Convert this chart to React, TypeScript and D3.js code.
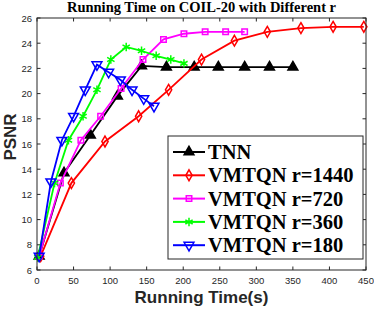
import { useEffect, useRef } from 'react';
import * as d3 from 'd3';

// data (x = running time in s, y = PSNR)
const tnnX = [3, 37, 73, 110, 143, 177, 215, 248, 284, 318, 350];
const tnnY = [7.1, 13.7, 16.7, 19.8, 22.2, 22.1, 22.1, 22.1, 22.1, 22.1, 22.1];
const r1440X = [5, 47, 93, 139, 180, 225, 270, 315, 361, 405, 447];
const r1440Y = [7.1, 12.9, 16.2, 18.2, 20.3, 22.7, 24.2, 24.9, 25.2, 25.3, 25.3];
const r720X = [3, 32, 60, 87, 115, 145, 173, 201, 230, 258, 284];
const r720Y = [7.1, 12.9, 16.3, 18.2, 20.4, 22.7, 24.3, 24.75, 24.9, 24.9, 24.9];
const r360X = [1, 24, 43, 63, 82, 101, 122, 143, 163, 183, 201];
const r360Y = [7.0, 12.9, 16.3, 18.2, 20.3, 22.7, 23.7, 23.4, 23.0, 22.7, 22.4];
const r180X = [3, 19, 34, 50, 66, 82, 98, 114, 130, 146, 160];
const r180Y = [7.1, 13.0, 16.3, 18.2, 20.3, 22.3, 21.7, 21.1, 20.3, 19.6, 19.0];

const seriesNames = ['TNN', 'VMTQN r=1440', 'VMTQN r=720', 'VMTQN r=360', 'VMTQN r=180'];
const xTicks = [0, 50, 100, 150, 200, 250, 300, 350, 400, 450];
const yTicks = [6, 8, 10, 12, 14, 16, 18, 20, 22, 24, 26];

function App() {
  const ref = useRef(null);

  useEffect(() => {
    const svg = d3.select(ref.current);
    svg.selectAll('*').remove();

    const left = 37, right = 366, top = 18, bottom = 270;
    const x = d3.scaleLinear().domain([0, 450]).range([left, right]);
    const y = d3.scaleLinear().domain([6, 26]).range([bottom, top]);
    const axisColor = '#262626';

    const series = [
      { name: seriesNames[0], xs: tnnX, ys: tnnY, color: '#000000', shape: 'tri', fill: '#000000' },
      { name: seriesNames[1], xs: r1440X, ys: r1440Y, color: '#ff0000', shape: 'diamond', fill: 'none' },
      { name: seriesNames[2], xs: r720X, ys: r720Y, color: '#ff00ff', shape: 'square', fill: 'none' },
      { name: seriesNames[3], xs: r360X, ys: r360Y, color: '#00ff00', shape: 'star', fill: 'none' },
      { name: seriesNames[4], xs: r180X, ys: r180Y, color: '#0000ff', shape: 'tridown', fill: 'none' },
    ];

    const symbolPath = (shape: string) => {
      if (shape === 'tri' || shape === 'tridown') return d3.symbol(d3.symbolTriangle, 42)();
      if (shape === 'diamond') return d3.symbol(d3.symbolDiamond, 34)();
      if (shape === 'square') return d3.symbol(d3.symbolSquare, 30)();
      return d3.symbol(d3.symbolAsterisk, 50)();
    };

    // white plot area
    svg.append('rect').attr('x', left).attr('y', top)
      .attr('width', right - left).attr('height', bottom - top).attr('fill', '#fff');

    // ticks all round, inward
    const g = svg.append('g');
    xTicks.forEach((t) => {
      g.append('line').attr('x1', x(t)).attr('x2', x(t)).attr('y1', bottom).attr('y2', bottom - 3.5).attr('stroke', axisColor);
      g.append('line').attr('x1', x(t)).attr('x2', x(t)).attr('y1', top).attr('y2', top + 3.5).attr('stroke', axisColor);
      g.append('text').attr('x', x(t)).attr('y', bottom + 14).attr('text-anchor', 'middle')
        .attr('font-family', 'Liberation Sans, Arial, sans-serif').attr('font-size', 9.5).attr('fill', axisColor).text(t);
    });
    yTicks.forEach((t) => {
      g.append('line').attr('x1', left).attr('x2', left + 3.5).attr('y1', y(t)).attr('y2', y(t)).attr('stroke', axisColor);
      g.append('line').attr('x1', right).attr('x2', right - 3.5).attr('y1', y(t)).attr('y2', y(t)).attr('stroke', axisColor);
      g.append('text').attr('x', left - 5).attr('y', y(t) + 3.5).attr('text-anchor', 'end')
        .attr('font-family', 'Liberation Sans, Arial, sans-serif').attr('font-size', 9.5).attr('fill', axisColor).text(t);
    });

    const line = d3.line<number>();
    series.forEach((s) => {
      const pts = s.xs.map((v, i) => [x(v), y(s.ys[i])] as [number, number]);
      svg.append('path').attr('d', line(pts as any) as string).attr('fill', 'none')
        .attr('stroke', s.color).attr('stroke-width', 1.8);
      pts.forEach((p) => {
        svg.append('path').attr('d', symbolPath(s.shape) as string)
          .attr('transform', `translate(${p[0]},${p[1]})${s.shape === 'tridown' ? ' rotate(180)' : ''}`)
          .attr('fill', s.fill).attr('stroke', s.color).attr('stroke-width', 1.5);
      });
    });

    // box
    svg.append('rect').attr('x', left).attr('y', top)
      .attr('width', right - left).attr('height', bottom - top)
      .attr('fill', 'none').attr('stroke', axisColor).attr('stroke-width', 1);

    // legend
    const lg = svg.append('g');
    lg.append('rect').attr('x', 168).attr('y', 136).attr('width', 195).attr('height', 123)
      .attr('fill', '#fff').attr('stroke', axisColor).attr('stroke-width', 1);
    series.forEach((s, i) => {
      const cy = 152 + i * 23.3;
      lg.append('line').attr('x1', 173).attr('x2', 205).attr('y1', cy).attr('y2', cy)
        .attr('stroke', s.color).attr('stroke-width', 2);
      lg.append('path').attr('d', symbolPath(s.shape) as string)
        .attr('transform', `translate(189,${cy})${s.shape === 'tridown' ? ' rotate(180)' : ''}`)
        .attr('fill', s.fill).attr('stroke', s.color).attr('stroke-width', 1.5);
      lg.append('text').attr('x', 208).attr('y', cy + 7)
        .attr('font-family', 'Liberation Serif, Times New Roman, serif').attr('font-weight', 'bold')
        .attr('font-size', 20.5).attr('fill', '#000').text(s.name);
    });

    // titles
    svg.append('text').attr('x', (left + right) / 2).attr('y', 12).attr('text-anchor', 'middle')
      .attr('font-family', 'Liberation Serif, Times New Roman, serif').attr('font-weight', 'bold')
      .attr('font-size', 14.5).attr('fill', '#000').text('Running Time on COIL-20 with Different r');
    svg.append('text').attr('x', (left + right) / 2).attr('y', 303).attr('text-anchor', 'middle')
      .attr('font-family', 'Liberation Sans, Arial, sans-serif').attr('font-weight', 'bold')
      .attr('font-size', 17).attr('fill', axisColor).text('Running Time(s)');
    svg.append('text').attr('transform', `translate(16,${(top + bottom) / 2 - 7}) rotate(-90)`)
      .attr('text-anchor', 'middle')
      .attr('font-family', 'Liberation Sans, Arial, sans-serif').attr('font-weight', 'bold')
      .attr('font-size', 17).attr('fill', axisColor).text('PSNR');
  }, []);

  return (
    <div style={{ position: 'absolute', left: 0, top: 0 }}>
      <svg ref={ref} width={374} height={312} style={{ display: 'block', background: '#fff' }} />
    </div>
  );
}

export default App;
